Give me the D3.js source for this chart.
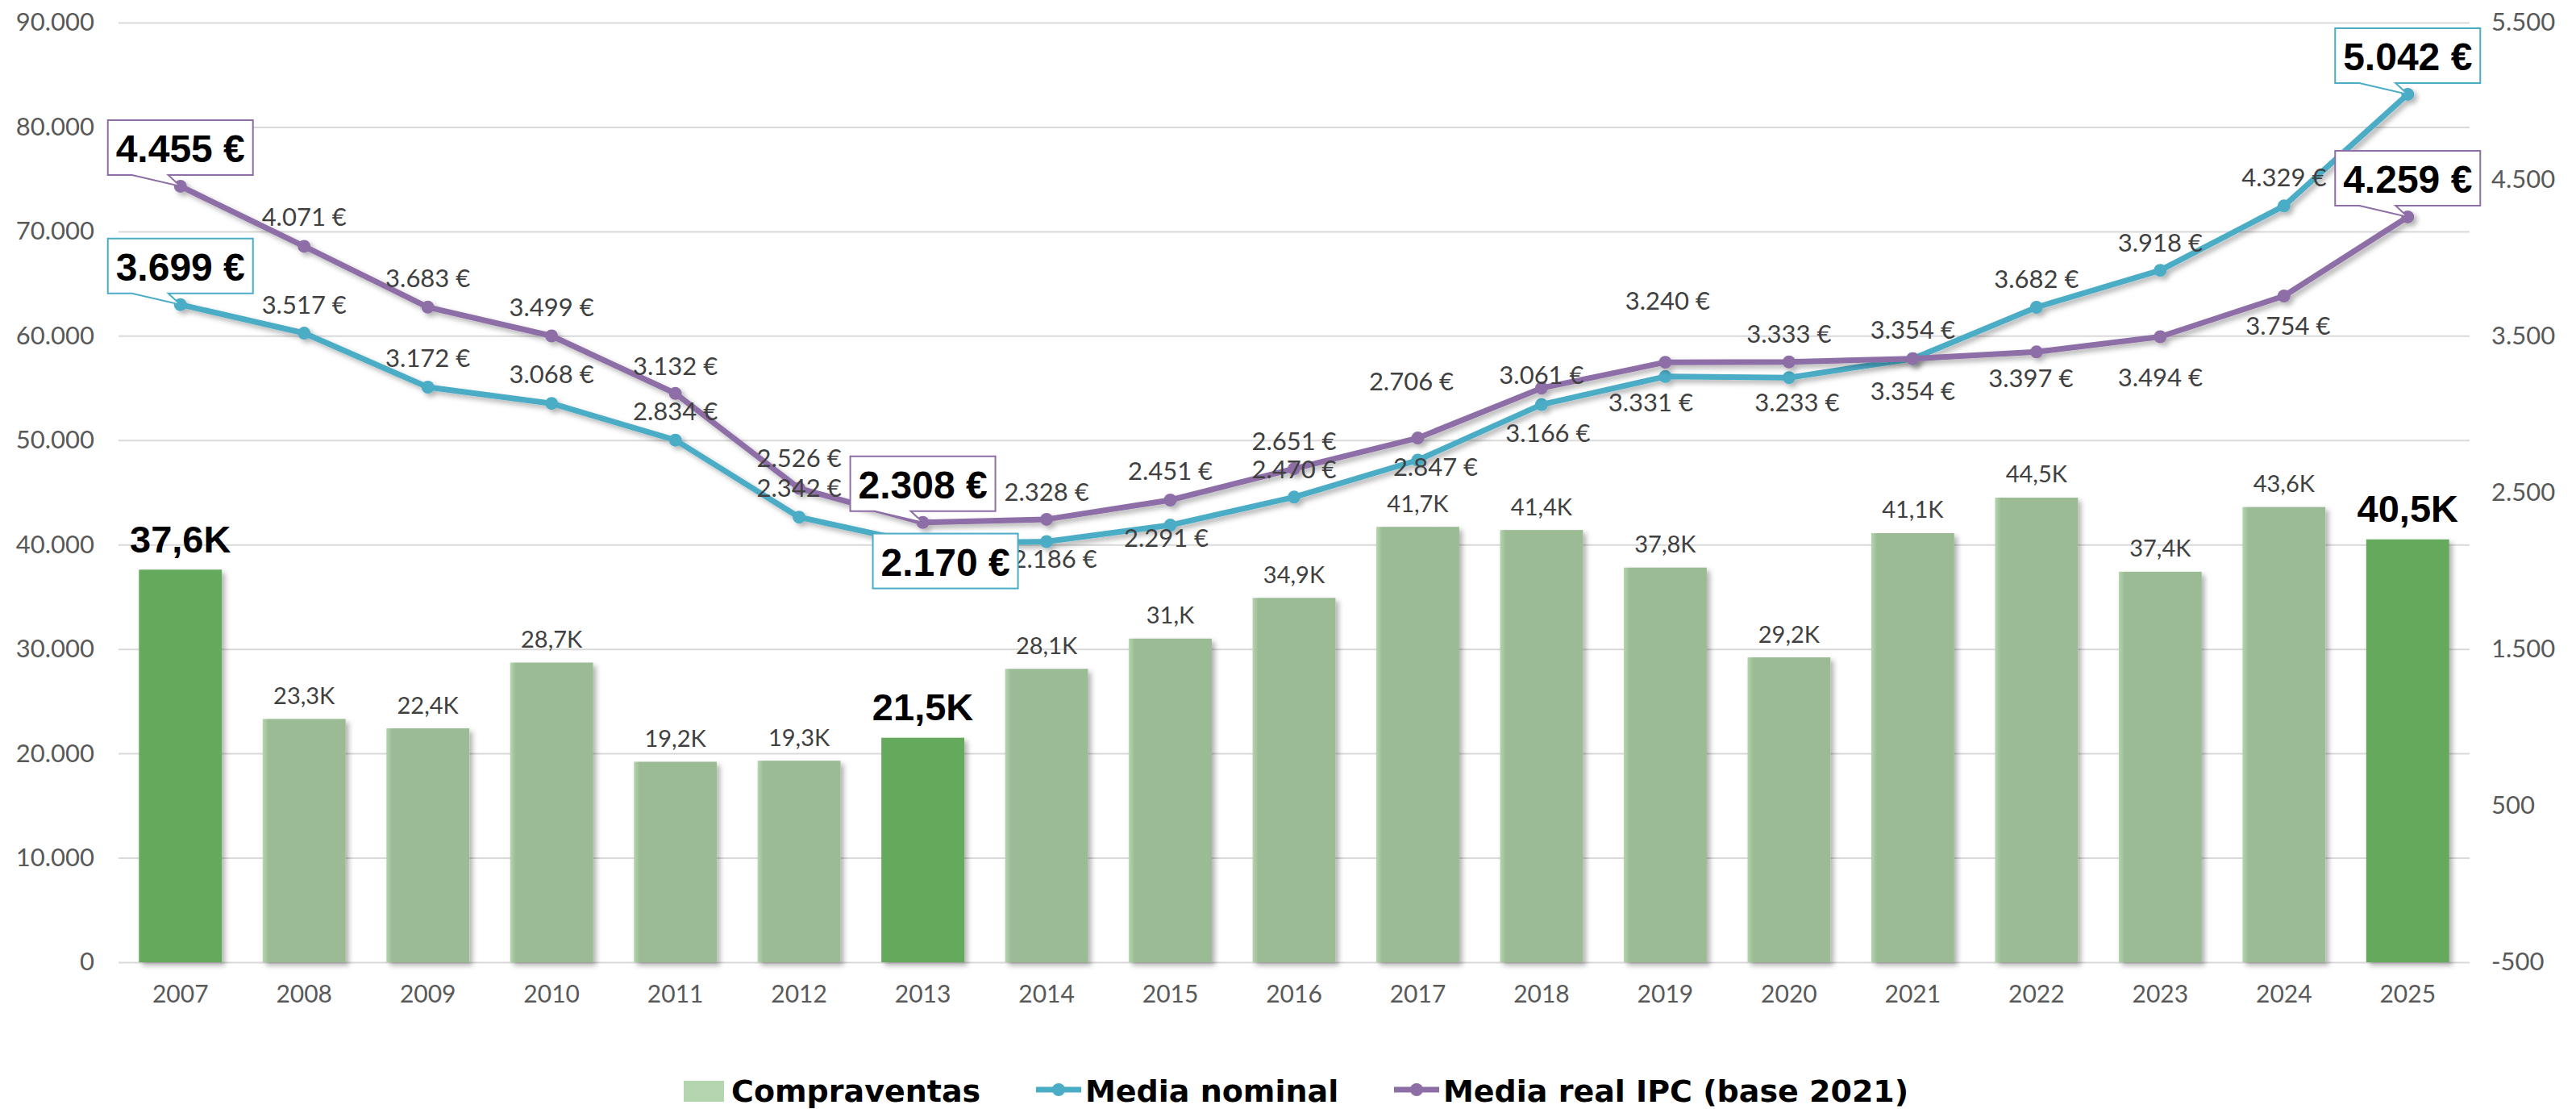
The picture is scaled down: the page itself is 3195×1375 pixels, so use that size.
<!DOCTYPE html>
<html>
<head>
<meta charset="utf-8">
<script src="https://cdn.jsdelivr.net/npm/d3@7"></script>
<style>
  body { margin: 0; background: #fff; }
  svg text { font-family: Lato, "Open Sans", sans-serif; }
</style>
</head>
<body>
<script>
var years = ["2007", "2008", "2009", "2010", "2011", "2012", "2013", "2014", "2015", "2016",
             "2017", "2018", "2019", "2020", "2021", "2022", "2023", "2024", "2025"];
var compraventas = [37600, 23300, 22400, 28700, 19200, 19300, 21500, 28100, 31000, 34900,
                    41700, 41400, 37800, 29200, 41100, 44500, 37400, 43600, 40500];
var mediaNominal = [3699, 3517, 3172, 3068, 2834, 2342, 2170, 2186, 2291, 2470,
                    2706, 3061, 3240, 3233, 3354, 3682, 3918, 4329, 5042];
var mediaReal = [4455, 4071, 3683, 3499, 3132, 2526, 2308, 2328, 2451, 2651,
                 2847, 3166, 3331, 3333, 3354, 3397, 3494, 3754, 4259];
var highlightYears = ["2007", "2013", "2025"];
var leftTicks = [0, 10000, 20000, 30000, 40000, 50000, 60000, 70000, 80000, 90000];
var rightTicks = [-500, 500, 1500, 2500, 3500, 4500, 5500];
var legendNames = ["Compraventas", "Media nominal", "Media real IPC (base 2021)"];

// label placement (px from the point), null = callout box
var nominalLabelOffset = [null, [0, -36], [0, -37], [0, -37], [0, -37], [0, -37], null, [10, 21], [-5, 15], [0, -35],
                          [-8, -99], [0, -38], [3, -95], [10, 30], [0, -37], [0, -36], [0, -35], [0, -36], null];
var realLabelOffset = [null, [0, -37], [0, -37], [0, -37], [0, -35], [0, -38], null, [0, -35], [0, -37], [0, -35],
                       [22, 35], [8, 55], [-18, 49], [0, -36], [0, 39], [-7, 32], [0, 50], [5, 36], null];

var W = 3195, H = 1375;
var plotLeft = 147, plotRight = 3063, plotTop = 28, plotBottom = 1193;
var teal = "#4bacc6", purple = "#8e6ea6", barLight = "#9bbb95", barDark = "#65aa5c";

var locale = d3.formatLocale({decimal: ",", thousands: ".", grouping: [3], currency: ["", " €"], minus: "-"});
var fmtInt = locale.format(",d");
function euro(v) { return fmtInt(v) + " €"; }
function kLabel(v) {
  var s = (v / 1000).toFixed(1).replace(".", ",");
  return s.replace(/,0$/, ",") + "K";
}

var svg = d3.select("body").append("svg")
    .attr("width", W)
    .attr("height", H);

svg.append("rect").attr("width", W).attr("height", H).attr("fill", "#fff");

var defs = svg.append("defs");
defs.append("filter")
    .attr("id", "shadow")
    .attr("filterUnits", "userSpaceOnUse")
    .attr("x", 0).attr("y", 0).attr("width", W).attr("height", H)
  .append("feDropShadow")
    .attr("dx", 4).attr("dy", 4)
    .attr("stdDeviation", 3)
    .attr("flood-color", "#000")
    .attr("flood-opacity", 0.3);

var grad = defs.append("linearGradient")
    .attr("id", "bar-light")
    .attr("x1", "0%").attr("y1", "0%")
    .attr("x2", "100%").attr("y2", "0%");
grad.append("stop").attr("offset", "0%").attr("stop-color", "#b4d5ad");
grad.append("stop").attr("offset", "7%").attr("stop-color", barLight);
grad.append("stop").attr("offset", "100%").attr("stop-color", barLight);

var x = d3.scaleBand()
    .domain(years)
    .range([plotLeft, plotRight])
    .paddingInner(0.33)
    .paddingOuter(0.165);
var yL = d3.scaleLinear().domain([0, 90000]).range([plotBottom, plotTop]);
var yR = d3.scaleLinear().domain([-500, 5500]).range([plotBottom, plotTop]);
function cx(i) { return x(years[i]) + x.bandwidth() / 2; }

// left axis + gridlines
var gL = svg.append("g")
    .attr("transform", "translate(" + plotLeft + ",0)")
    .call(d3.axisLeft(yL).tickValues(leftTicks).tickSize(-(plotRight - plotLeft)).tickPadding(30)
      .tickFormat(function(d) { return fmtInt(d); }));
gL.select(".domain").remove();
gL.selectAll("line").attr("stroke", "#d9d9d9").attr("stroke-width", 2);
gL.selectAll("text").attr("fill", "#595959").style("font-size", "31px");

// right axis
var gR = svg.append("g")
    .attr("transform", "translate(" + plotRight + ",0)")
    .call(d3.axisRight(yR).tickValues(rightTicks).tickSize(0).tickPadding(27)
      .tickFormat(function(d) { return fmtInt(d); }));
gR.select(".domain").remove();
gR.selectAll("text").attr("fill", "#595959").style("font-size", "31px");

// x axis
var gX = svg.append("g")
    .attr("transform", "translate(0," + plotBottom + ")")
    .call(d3.axisBottom(x).tickSize(0).tickPadding(29));
gX.select(".domain").remove();
gX.selectAll("text").attr("fill", "#595959").style("font-size", "30px");

// bars
svg.append("g").attr("filter", "url(#shadow)")
  .selectAll("rect")
  .data(compraventas)
  .enter().append("rect")
    .attr("x", function(d, i) { return x(years[i]); })
    .attr("y", function(d) { return yL(d); })
    .attr("width", x.bandwidth())
    .attr("height", function(d) { return plotBottom - yL(d); })
    .attr("fill", function(d, i) { return highlightYears.indexOf(years[i]) >= 0 ? barDark : "url(#bar-light)"; });

svg.append("g")
  .selectAll("text")
  .data(compraventas)
  .enter().append("text")
    .attr("x", function(d, i) { return cx(i); })
    .attr("y", function(d, i) { return yL(d) - (highlightYears.indexOf(years[i]) >= 0 ? 38 : 30); })
    .attr("text-anchor", "middle")
    .attr("dominant-baseline", "central")
    .each(function(d, i) {
      var hi = highlightYears.indexOf(years[i]) >= 0;
      d3.select(this)
        .attr("fill", hi ? "#000" : "#404040")
        .style("font-size", hi ? "47px" : "29px")
        .style("font-weight", hi ? "bold" : "normal")
        .style("font-family", hi ? "'Liberation Sans', Arial, sans-serif" : null);
    })
    .text(function(d) { return kLabel(d); });

// lines
var line = d3.line()
    .x(function(d, i) { return cx(i); })
    .y(function(d) { return yR(d); });

[[mediaNominal, teal], [mediaReal, purple]].forEach(function(s) {
  var g = svg.append("g").attr("filter", "url(#shadow)");
  g.append("path")
      .datum(s[0])
      .attr("d", line)
      .attr("fill", "none")
      .attr("stroke", s[1])
      .attr("stroke-width", 7)
      .attr("stroke-linejoin", "round");
  g.selectAll("circle")
      .data(s[0])
      .enter().append("circle")
      .attr("cx", function(d, i) { return cx(i); })
      .attr("cy", function(d) { return yR(d); })
      .attr("r", 8)
      .attr("fill", s[1]);
});

// plain value labels
[[mediaNominal, nominalLabelOffset], [mediaReal, realLabelOffset]].forEach(function(s) {
  svg.append("g")
    .selectAll("text")
    .data(s[0].map(function(v, i) { return {v: v, i: i, off: s[1][i]}; })
      .filter(function(d) { return d.off; }))
    .enter().append("text")
      .attr("x", function(d) { return cx(d.i) + d.off[0]; })
      .attr("y", function(d) { return yR(d.v) + d.off[1]; })
      .attr("text-anchor", "middle")
      .attr("dominant-baseline", "central")
      .attr("fill", "#404040")
      .style("font-size", "31px")
      .text(function(d) { return euro(d.v); });
});

// callout boxes
var boxW = 180, boxH = 68;
function callout(values, color, i, over) {
  var px = cx(i), py = yR(values[i]);
  var g = svg.append("g");
  if (over) {
    var x0 = px - 62, y0 = py - 13;
    g.append("rect")
        .attr("x", x0).attr("y", y0)
        .attr("width", boxW).attr("height", boxH)
        .attr("fill", "#fff").attr("stroke", color).attr("stroke-width", 2);
    g.append("text")
        .attr("x", x0 + boxW / 2).attr("y", y0 + boxH / 2 + 2)
        .attr("text-anchor", "middle").attr("dominant-baseline", "central")
        .style("font-family", "'Liberation Sans', Arial, sans-serif")
        .style("font-weight", "bold").style("font-size", "48px")
        .attr("fill", "#000")
        .text(euro(values[i]));
    return;
  }
  var bx0 = px - boxW / 2, bx1 = px + boxW / 2, by1 = py - 14, by0 = by1 - boxH;
  var p = d3.path();
  p.moveTo(bx0, by0);
  p.lineTo(bx1, by0);
  p.lineTo(bx1, by1);
  p.lineTo(px - 15, by1);
  p.lineTo(px, py);
  p.lineTo(px - 60, by1);
  p.lineTo(bx0, by1);
  p.closePath();
  g.append("path")
      .attr("d", p.toString())
      .attr("fill", "#fff").attr("stroke", color).attr("stroke-width", 2)
      .attr("stroke-linejoin", "miter");
  g.append("text")
      .attr("x", px).attr("y", (by0 + by1) / 2 + 2)
      .attr("text-anchor", "middle").attr("dominant-baseline", "central")
      .style("font-family", "'Liberation Sans', Arial, sans-serif")
      .style("font-weight", "bold").style("font-size", "48px")
      .attr("fill", "#000")
      .text(euro(values[i]));
}
highlightYears.forEach(function(yr) {
  var i = years.indexOf(yr);
  callout(mediaReal, purple, i, false);
  callout(mediaNominal, teal, i, yr === "2013");
});

// legend
var legend = svg.append("g").attr("transform", "translate(0,1353)");
var legendX = [848, 1285, 1729];
legend.append("rect")
    .attr("x", legendX[0]).attr("y", -13)
    .attr("width", 50).attr("height", 26)
    .attr("fill", "#b3d6ae");
[teal, purple].forEach(function(c, k) {
  var lx = legendX[k + 1];
  legend.append("line")
      .attr("x1", lx).attr("x2", lx + 56)
      .attr("y1", -2).attr("y2", -2)
      .attr("stroke", c).attr("stroke-width", 7);
  legend.append("circle")
      .attr("cx", lx + 28).attr("cy", -2).attr("r", 8).attr("fill", c);
});
legend.selectAll("text.leg")
  .data(legendNames)
  .enter().append("text")
    .attr("class", "leg")
    .attr("x", function(d, k) { return legendX[k] + (k === 0 ? 59 : 61); })
    .attr("y", 0)
    .attr("dominant-baseline", "central")
    .style("font-family", "'DejaVu Sans', sans-serif")
    .style("font-weight", "bold")
    .style("font-size", "38px")
    .attr("fill", "#000")
    .text(function(d) { return d; });
</script>
</body>
</html>
